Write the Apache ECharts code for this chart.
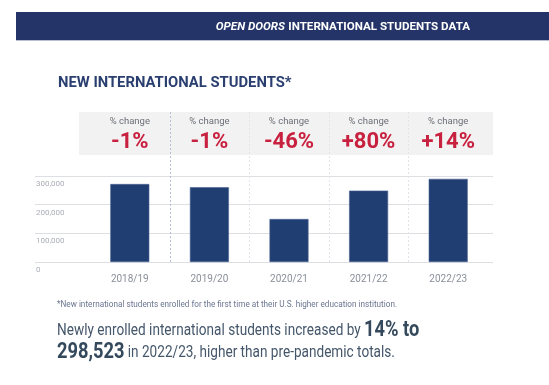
<!DOCTYPE html>
<html>
<head>
<meta charset="utf-8">
<script src="https://cdn.jsdelivr.net/npm/echarts@6/dist/echarts.min.js"></script>
<style>html,body{margin:0;padding:0;background:#fff}#c{width:549px;height:385px}</style>
</head>
<body>
<div id="c"></div>
<script>
const categories = ['2018/19', '2019/20', '2020/21', '2021/22', '2022/23'];
const newStudents = [272000, 261000, 150000, 249000, 290000];
const pctChange = ['-1%', '-1%', '-46%', '+80%', '+14%'];
const yTicks = [0, 100000, 200000, 300000];

const FONT = 'Roboto, sans-serif';
const chart = echarts.init(document.getElementById('c'), null, {renderer: 'canvas'});

const yMax = yTicks[yTicks.length - 1];
const yStep = yTicks[1] - yTicks[0];

chart.setOption({
  animation: false,
  backgroundColor: '#ffffff',
  grid: [
    {left: 90, right: 61, top: 176, bottom: 123},
    {left: 35, right: 56, top: 176, bottom: 123}
  ],
  xAxis: [
    {
      type: 'category', gridIndex: 0, data: categories,
      axisLine: {show: false}, axisTick: {show: false},
      axisLabel: {color: '#8a8f99', fontSize: 10, fontFamily: FONT, margin: 12}
    },
    {type: 'value', gridIndex: 1, show: false, min: 0, max: 1}
  ],
  yAxis: [
    {type: 'value', gridIndex: 0, min: 0, max: yMax, interval: yStep, show: false},
    {
      type: 'value', gridIndex: 1, min: 0, max: yMax, interval: yStep,
      axisLine: {show: false}, axisTick: {show: false},
      splitLine: {lineStyle: {color: '#dedfe3', width: 1}},
      axisLabel: {
        inside: true, margin: 1, color: '#a9adb5', fontSize: 8, fontFamily: FONT,
        verticalAlign: 'top', padding: [4, 0, 0, 0],
        formatter: v => v.toLocaleString('en-US')
      }
    }
  ],
  series: [{
    type: 'bar', xAxisIndex: 0, yAxisIndex: 0, data: newStudents,
    barWidth: 39,
    itemStyle: {color: '#203e72', borderColor: '#4a6394', borderWidth: 0.6}
  }]
});

const g = [];
// header
g.push({type: 'rect', shape: {x: 16, y: 12, width: 533, height: 28}, style: {fill: '#243468'}, z: 1});
g.push({type: 'rect', shape: {x: 16, y: 40, width: 533, height: 1}, style: {fill: '#b9c0d4'}, z: 1});
g.push({type: 'text', x: 470, y: 27, z: 2, style: {
  text: '{i|OPEN DOORS} {n|INTERNATIONAL STUDENTS DATA}', align: 'right', verticalAlign: 'middle',
  rich: {
    i: {fontStyle: 'italic', fontWeight: 'bold', fontSize: 11.6, fill: '#ffffff', fontFamily: FONT},
    n: {fontWeight: 'bold', fontSize: 11.6, fill: '#ffffff', fontFamily: FONT}
  }
}});
// title
g.push({type: 'text', x: 58, y: 83, z: 2, style: {
  text: 'NEW INTERNATIONAL STUDENTS*', fontWeight: 'bold', fontSize: 14.8,
  fill: '#2a3f70', fontFamily: FONT, verticalAlign: 'middle'
}});
// grey box
g.push({type: 'rect', shape: {x: 79, y: 112, width: 414, height: 43}, style: {fill: '#f2f2f2'}, z: 0});

const baseY = chart.convertToPixel({xAxisIndex: 0, yAxisIndex: 0}, [0, 0])[1];
categories.forEach((c, i) => {
  const x = chart.convertToPixel({xAxisIndex: 0}, c);
  g.push({type: 'text', x: x, y: 122, z: 2, style: {
    text: '% change', fontSize: 9.5, fill: '#6b6f76', fontFamily: FONT, align: 'center', verticalAlign: 'middle'
  }});
  g.push({type: 'text', x: x, y: 142, z: 2, style: {
    text: pctChange[i], fontSize: 22, fontWeight: 'bold', fill: '#c8203f', fontFamily: FONT,
    align: 'center', verticalAlign: 'middle'
  }});
  if (i > 0) {
    const xb = Math.round((x + chart.convertToPixel({xAxisIndex: 0}, categories[i - 1])) / 2) + 0.5;
    g.push({type: 'line', z: 1, shape: {x1: xb, y1: 112, x2: xb, y2: baseY}, style: {
      stroke: i === 1 ? '#b7bfd8' : '#e3e4e8', lineWidth: 1, lineDash: [2, 2]
    }});
  }
});

// footnote
g.push({type: 'text', x: 57, y: 305, z: 2, scaleX: 0.88, originX: 0, originY: 0, style: {
  text: '*New international students enrolled for the first time at their U.S. higher education institution.',
  fontSize: 9.3, fill: '#6a7590', fontFamily: FONT, verticalAlign: 'middle'
}});
// summary
const rich = {
  a: {fontSize: 16, fill: '#44566a', fontFamily: FONT},
  b: {fontSize: 21.5, fontWeight: 'bold', fill: '#34495c', fontFamily: FONT}
};
g.push({type: 'text', x: 57, y: 331, z: 2, scaleX: 0.85, originX: 0, originY: 0, style: {
  text: '{a|Newly enrolled international students increased by }{b|14% to}', verticalAlign: 'middle', rich: rich
}});
g.push({type: 'text', x: 57, y: 353, z: 2, scaleX: 0.85, originX: 0, originY: 0, style: {
  text: '{b|298,523}{a| in 2022/23, higher than pre-pandemic totals.}', verticalAlign: 'middle', rich: rich
}});

chart.setOption({graphic: {elements: g}});
</script>
</body>
</html>
